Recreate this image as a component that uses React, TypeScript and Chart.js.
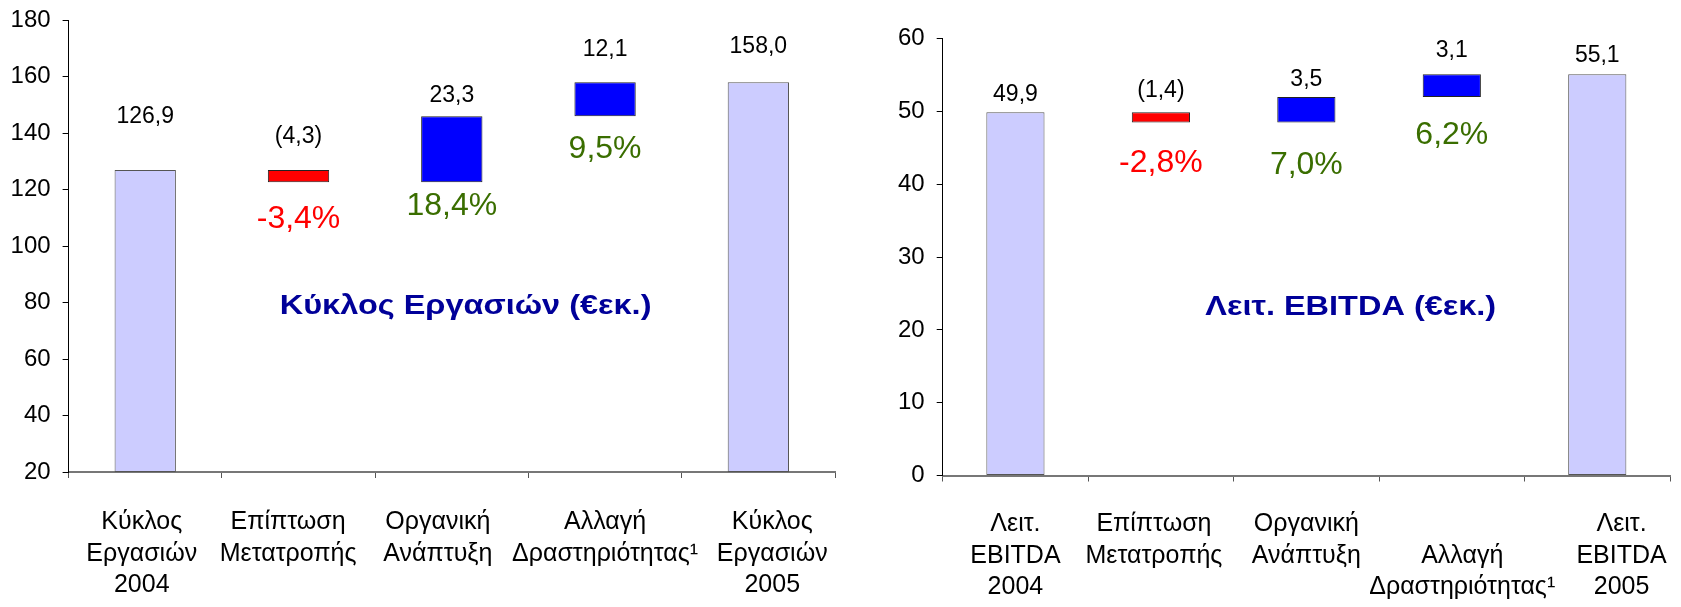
import React, { useEffect, useRef } from "react";
import { Chart, registerables } from "chart.js";

Chart.register(...registerables);

const FONT = "'Liberation Sans', Arial, sans-serif";

// ---- Left chart data (Κύκλος Εργασιών) ----
const leftCategories = [
  ["Κύκλος", "Εργασιών", "2004"],
  ["Επίπτωση", "Μετατροπής"],
  ["Οργανική", "Ανάπτυξη"],
  ["Αλλαγή", "Δραστηριότητας¹"],
  ["Κύκλος", "Εργασιών", "2005"],
];
const leftStart = 126.9;
const leftDeltas = [-4.3, 23.3, 12.1];
const leftEnd = 158.0;
const leftPercents = [null, -3.4, 18.4, 9.5, null];
const leftTitle = "Κύκλος Εργασιών (€εκ.)";
const leftYMin = 20;
const leftYMax = 180;
const leftYStep = 20;

// ---- Right chart data (Λειτ. EBITDA) ----
const rightCategories = [
  ["Λειτ.", "EBITDA", "2004"],
  ["Επίπτωση", "Μετατροπής"],
  ["Οργανική", "Ανάπτυξη"],
  ["", "Αλλαγή", "Δραστηριότητας¹"],
  ["Λειτ.", "EBITDA", "2005"],
];
const rightStart = 49.9;
const rightDeltas = [-1.4, 3.5, 3.1];
const rightEnd = 55.1;
const rightPercents = [null, -2.8, 7.0, 6.2, null];
const rightTitle = "Λειτ. EBITDA (€εκ.)";
const rightYMin = 0;
const rightYMax = 60;
const rightYStep = 10;

const fmt = (v: number) => v.toFixed(1).replace(".", ",");

// shift a multi-line category label sideways by padding with spaces
// (negative = trailing spaces -> moves left, positive = leading spaces -> moves right)
function shiftLabel(lines: string[], spaces: number) {
  if (!spaces) return lines;
  const pad = " ".repeat(Math.abs(spaces));
  return lines.map((l) => (l === "" ? l : spaces < 0 ? l + pad : pad + l));
}

function buildWaterfall(start: number, deltas: number[], end: number, base: number) {
  const ranges: [number, number][] = [[base, start]];
  const labels: string[] = [fmt(start)];
  const colors: string[] = ["#CCCCFF"];
  const borders: string[] = ["#555555"];
  let cur = start;
  deltas.forEach((d) => {
    const next = Math.round((cur + d) * 10) / 10;
    ranges.push([cur, next]);
    labels.push(d < 0 ? `(${fmt(-d)})` : fmt(d));
    colors.push(d < 0 ? "#FF0000" : "#0000FF");
    borders.push("#222222");
    cur = next;
  });
  ranges.push([base, end]);
  labels.push(fmt(end));
  colors.push("#CCCCFF");
  borders.push("#555555");
  return { ranges, labels, colors, borders };
}

const labelPlugin = {
  id: "wfLabels",
  afterDatasetsDraw(chart: any, _args: any, opts: any) {
    const { ctx, chartArea } = chart;
    const meta = chart.getDatasetMeta(0);
    ctx.save();
    ctx.textAlign = "center";
    ctx.textBaseline = "middle";
    meta.data.forEach((bar: any, i: number) => {
      const p = bar.getProps(["x", "y", "base"], true);
      const top = Math.min(p.y, p.base);
      const bottom = Math.max(p.y, p.base);
      ctx.font = `23px ${FONT}`;
      ctx.fillStyle = "#000000";
      ctx.fillText(opts.valueLabels[i], p.x, top - opts.valueGap[i]);
      const pct = opts.percents[i];
      if (pct !== null && pct !== undefined) {
        ctx.font = `32px ${FONT}`;
        ctx.fillStyle = pct < 0 ? "#FF0000" : "#3A6E00";
        ctx.fillText(fmt(pct) + "%", p.x, bottom + opts.pctGap[i]);
      }
    });
    // title inside the plot area
    const tx = chartArea.left + (chartArea.right - chartArea.left) * opts.titleX;
    const ty = chartArea.top + (chartArea.bottom - chartArea.top) * opts.titleY;
    ctx.translate(tx, ty);
    ctx.scale(1.16, 1);
    ctx.font = `bold 28px ${FONT}`;
    ctx.fillStyle = "#000099";
    ctx.fillText(opts.title, 0, 0);
    ctx.restore();
  },
};

function makeConfig(p: {
  categories: string[][];
  labelShift: number[];
  start: number;
  deltas: number[];
  end: number;
  percents: (number | null)[];
  title: string;
  yMin: number;
  yMax: number;
  yStep: number;
  yWidth: number;
  xHeight: number;
  padTop: number;
  padRight: number;
  xPad: number;
  valueGap: number[];
  pctGap: number[];
  titleX: number;
  titleY: number;
}) {
  const wf = buildWaterfall(p.start, p.deltas, p.end, p.yMin);
  const labels = p.categories.map((c, i) => shiftLabel(c, p.labelShift[i]));
  return {
    type: "bar" as const,
    data: {
      labels,
      datasets: [
        {
          data: wf.ranges,
          backgroundColor: wf.colors,
          borderColor: wf.borders,
          borderWidth: 1,
          borderSkipped: false,
          barPercentage: 0.4,
          categoryPercentage: 1,
        },
      ],
    },
    options: {
      animation: false,
      responsive: false,
      layout: { padding: { top: p.padTop, right: p.padRight, left: 0, bottom: 0 } },
      plugins: {
        legend: { display: false },
        tooltip: { enabled: false },
        wfLabels: {
          valueLabels: wf.labels,
          percents: p.percents,
          valueGap: p.valueGap,
          pctGap: p.pctGap,
          title: p.title,
          titleX: p.titleX,
          titleY: p.titleY,
        },
      },
      scales: {
        x: {
          grid: { drawOnChartArea: false, tickLength: 6, color: "#555555", offset: true },
          border: { color: "#777777", width: 2 },
          ticks: {
            color: "#000000",
            font: { size: 25, family: FONT, lineHeight: 1.27 },
            padding: p.xPad,
            maxRotation: 0,
            minRotation: 0,
            autoSkip: false,
          },
          afterFit: (s: any) => {
            s.height = p.xHeight;
            s.paddingLeft = 0;
            s.paddingRight = 0;
          },
        },
        y: {
          min: p.yMin,
          max: p.yMax,
          grid: { drawOnChartArea: false, tickLength: 6, color: "#000000" },
          border: { color: "#000000", width: 1 },
          ticks: {
            stepSize: p.yStep,
            color: "#000000",
            font: { size: 24, family: FONT },
            padding: 12,
          },
          afterFit: (s: any) => {
            s.width = p.yWidth;
            s.paddingTop = 0;
            s.paddingBottom = 0;
          },
        },
      },
    },
    plugins: [labelPlugin],
  };
}

function WaterfallChart(props: { config: any; width: number; height: number; left: number }) {
  const ref = useRef<HTMLCanvasElement | null>(null);
  useEffect(() => {
    if (!ref.current) return;
    const chart = new Chart(ref.current, props.config);
    return () => chart.destroy();
  }, []);
  return (
    <canvas
      ref={ref}
      width={props.width}
      height={props.height}
      style={{ position: "absolute", left: props.left, top: 0, width: props.width, height: props.height }}
    />
  );
}

export default function App() {
  const leftConfig = makeConfig({
    categories: leftCategories,
    labelShift: [-1, -3, -4, 0, 4],
    start: leftStart,
    deltas: leftDeltas,
    end: leftEnd,
    percents: leftPercents,
    title: leftTitle,
    yMin: leftYMin,
    yMax: leftYMax,
    yStep: leftYStep,
    yWidth: 68.6,
    xHeight: 135,
    padTop: 20,
    padRight: 10,
    xPad: 28,
    valueGap: [53, 33, 21, 32, 35],
    pctGap: [0, 37, 24, 33, 0],
    titleX: 0.518,
    titleY: 0.633,
  });
  const rightConfig = makeConfig({
    categories: rightCategories,
    labelShift: [0, -2, 0, 3, 7],
    start: rightStart,
    deltas: rightDeltas,
    end: rightEnd,
    percents: rightPercents,
    title: rightTitle,
    yMin: rightYMin,
    yMax: rightYMax,
    yStep: rightYStep,
    yWidth: 102.7,
    xHeight: 131.5,
    padTop: 38.7,
    padRight: 11,
    xPad: 26.6,
    valueGap: [18, 22, 17, 24, 19],
    pctGap: [0, 41, 43, 38, 0],
    titleX: 0.561,
    titleY: 0.614,
  });
  return (
    <div style={{ position: "fixed", left: 0, top: 0, width: 1681, height: 607, background: "#FFFFFF" }}>
      <WaterfallChart config={leftConfig} width={845} height={607} left={0} />
      <WaterfallChart config={rightConfig} width={841} height={607} left={840} />
    </div>
  );
}
